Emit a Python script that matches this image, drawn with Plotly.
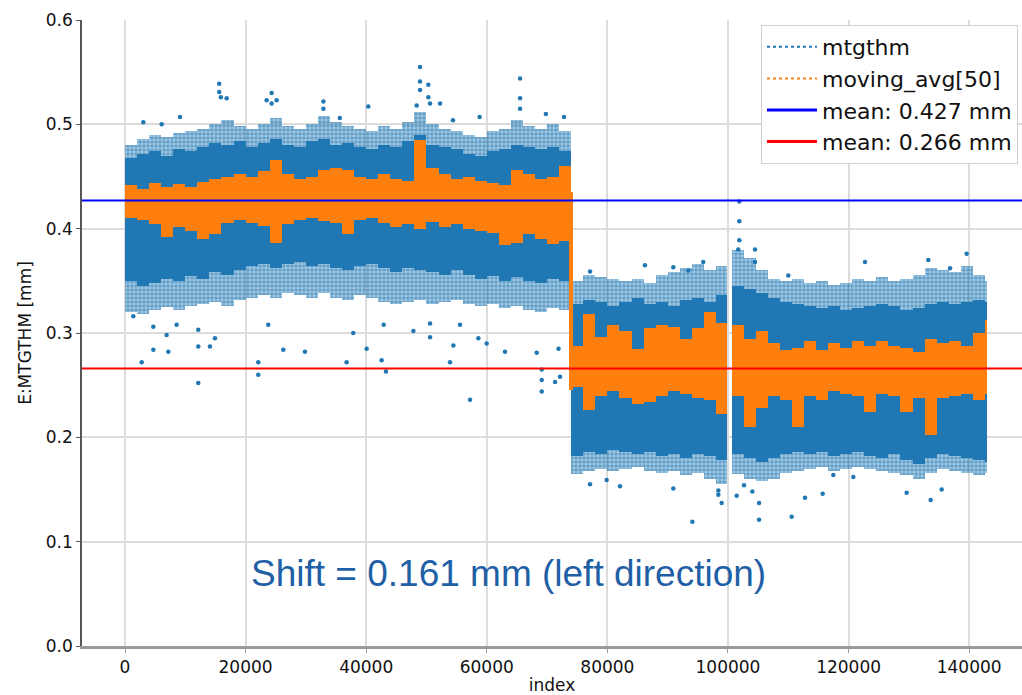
import numpy as np
import plotly.graph_objects as go

# ---------------- data ----------------
# index bins (edges) for the three stretches of samples
SEG1_EDGES = list(range(0, 74001, 2000))
SEG2A_EDGES = [74000, 76000, 78000, 80000, 82000, 84000, 86000, 88000, 90000,
               92000, 94000, 96000, 98000, 99800]
SEG2B_EDGES = [100600, 102600, 104600, 106600, 108600, 110600, 112600, 114600,
               116600, 118600, 120600, 122600, 124600, 126600, 128600, 130600,
               132600, 134600, 136600, 138600, 140600, 142600, 143000]

# mtgthm: dense core (lo/hi) and sparse fringe (lo/hi) per bin
SEG1_CORE_HI = [0.468, 0.472, 0.474, 0.470, 0.476, 0.474, 0.478, 0.482, 0.480, 0.484,
                0.478, 0.482, 0.486, 0.480, 0.478, 0.484, 0.486, 0.480, 0.482, 0.478,
                0.476, 0.480, 0.478, 0.484, 0.490, 0.480, 0.478, 0.476, 0.472, 0.470,
                0.474, 0.476, 0.480, 0.478, 0.476, 0.478, 0.474]
SEG1_FRINGE_HI = [0.480, 0.486, 0.490, 0.488, 0.492, 0.494, 0.496, 0.500, 0.504, 0.498,
                  0.496, 0.500, 0.506, 0.498, 0.496, 0.500, 0.508, 0.502, 0.498, 0.496,
                  0.494, 0.498, 0.496, 0.502, 0.512, 0.500, 0.496, 0.494, 0.490, 0.488,
                  0.494, 0.496, 0.504, 0.498, 0.496, 0.500, 0.494]
SEG1_CORE_LO = [0.350, 0.345, 0.348, 0.352, 0.350, 0.355, 0.352, 0.358, 0.356, 0.360,
                0.364, 0.366, 0.362, 0.366, 0.368, 0.364, 0.366, 0.362, 0.360, 0.364,
                0.366, 0.362, 0.358, 0.362, 0.360, 0.358, 0.356, 0.360, 0.356, 0.352,
                0.355, 0.350, 0.354, 0.350, 0.348, 0.352, 0.350]
SEG1_FRINGE_LO = [0.320, 0.318, 0.322, 0.325, 0.322, 0.326, 0.328, 0.330, 0.326, 0.332,
                  0.334, 0.336, 0.334, 0.338, 0.336, 0.334, 0.338, 0.334, 0.332, 0.336,
                  0.334, 0.330, 0.328, 0.330, 0.332, 0.328, 0.330, 0.332, 0.328, 0.326,
                  0.328, 0.324, 0.326, 0.322, 0.320, 0.324, 0.322]

SEG2A_CORE_HI = [0.328, 0.332, 0.330, 0.326, 0.330, 0.334, 0.328, 0.330, 0.326, 0.332,
                 0.334, 0.330, 0.336]
SEG2A_FRINGE_HI = [0.350, 0.356, 0.354, 0.352, 0.350, 0.352, 0.348, 0.356, 0.358, 0.362,
                   0.366, 0.360, 0.364]
SEG2A_CORE_LO = [0.182, 0.186, 0.184, 0.188, 0.186, 0.184, 0.186, 0.182, 0.184, 0.180,
                 0.184, 0.182, 0.178]
SEG2A_FRINGE_LO = [0.165, 0.168, 0.170, 0.168, 0.170, 0.172, 0.168, 0.166, 0.168, 0.164,
                   0.166, 0.160, 0.155]

SEG2B_CORE_HI = [0.345, 0.342, 0.338, 0.334, 0.330, 0.328, 0.326, 0.324, 0.326, 0.322,
                 0.324, 0.326, 0.328, 0.326, 0.322, 0.324, 0.328, 0.330, 0.328, 0.330,
                 0.332, 0.330]
SEG2B_FRINGE_HI = [0.380, 0.372, 0.360, 0.352, 0.350, 0.352, 0.348, 0.350, 0.346, 0.348,
                   0.352, 0.350, 0.354, 0.350, 0.352, 0.356, 0.362, 0.360, 0.358, 0.364,
                   0.356, 0.350]
SEG2B_CORE_LO = [0.184, 0.180, 0.176, 0.180, 0.184, 0.186, 0.184, 0.186, 0.182, 0.184,
                 0.186, 0.182, 0.180, 0.184, 0.178, 0.174, 0.180, 0.184, 0.182, 0.180,
                 0.178, 0.176]
SEG2B_FRINGE_LO = [0.165, 0.160, 0.158, 0.160, 0.166, 0.168, 0.170, 0.172, 0.168, 0.170,
                   0.172, 0.170, 0.168, 0.166, 0.164, 0.160, 0.166, 0.170, 0.168, 0.166,
                   0.164, 0.166]

# moving_avg[50]: band lo/hi per bin
SEG1_AVG_HI = [0.442, 0.438, 0.444, 0.440, 0.443, 0.440, 0.445, 0.448, 0.450, 0.452,
               0.450, 0.455, 0.466, 0.452, 0.448, 0.450, 0.456, 0.458, 0.456, 0.450,
               0.448, 0.452, 0.448, 0.446, 0.485, 0.458, 0.452, 0.448, 0.450, 0.446,
               0.444, 0.442, 0.456, 0.452, 0.448, 0.450, 0.460]
SEG1_AVG_LO = [0.410, 0.408, 0.404, 0.392, 0.402, 0.398, 0.390, 0.395, 0.405, 0.408,
               0.405, 0.403, 0.386, 0.404, 0.408, 0.410, 0.407, 0.405, 0.395, 0.408,
               0.410, 0.405, 0.402, 0.404, 0.400, 0.406, 0.402, 0.404, 0.400, 0.398,
               0.396, 0.384, 0.386, 0.395, 0.390, 0.385, 0.388]
SEG2A_AVG_HI = [0.288, 0.318, 0.296, 0.308, 0.302, 0.285, 0.305, 0.308, 0.306, 0.294,
                0.305, 0.320, 0.310]
SEG2A_AVG_LO = [0.248, 0.226, 0.240, 0.244, 0.238, 0.232, 0.234, 0.240, 0.244, 0.242,
                0.238, 0.236, 0.222]
SEG2B_AVG_HI = [0.308, 0.294, 0.302, 0.290, 0.284, 0.286, 0.292, 0.284, 0.290, 0.286,
                0.292, 0.288, 0.292, 0.288, 0.286, 0.282, 0.294, 0.290, 0.292, 0.288,
                0.300, 0.312]
SEG2B_AVG_LO = [0.240, 0.210, 0.228, 0.240, 0.236, 0.210, 0.240, 0.236, 0.244, 0.242,
                0.240, 0.224, 0.242, 0.240, 0.224, 0.238, 0.202, 0.238, 0.240, 0.242,
                0.236, 0.242]
# the moving average's drop at the step
STEP_EDGES = [73600, 74300]
STEP_AVG_HI = [0.435]
STEP_AVG_LO = [0.245]

# isolated mtgthm samples outside the bands
OUT_INDEX = [15620, 15620, 15900, 16860, 24320, 23490, 25150, 24320, 32900, 32900,
             40350, 48930, 48930, 48930, 50310, 50310, 50590, 52250, 65520, 65520,
             65520, 69800, 72800, 3040, 6080, 9120, 48370, 35630, 54390, 58810,
             2770, 4700, 1380, 4700, 8560, 6900, 7180, 12150, 12150, 12150,
             14090, 14920, 22100, 22100, 26250, 29840, 23760, 36750, 37850, 40070,
             42560, 43280, 42900, 47820, 50590, 54460, 53900, 57220, 58600, 59980,
             63020, 68280, 69110, 69110, 69110, 71320, 72150, 71900, 55560, 50590,
             101880, 101880, 101880, 101700, 104480, 104480, 86230, 122720, 139580, 133220,
             95900, 93420, 110000, 90930, 77120, 136830,
             94090, 77120, 82090, 79880, 90930, 98400, 98400, 98950, 101440, 102660,
             104040, 105150, 105150, 110560, 112770, 115700, 129630, 133610, 135440,
             120790, 117470]
OUT_VALUE = [0.539, 0.531, 0.526, 0.525, 0.530, 0.523, 0.523, 0.520, 0.522, 0.515,
             0.517, 0.555, 0.541, 0.533, 0.538, 0.526, 0.520, 0.520, 0.544, 0.525,
             0.515, 0.510, 0.507, 0.502, 0.500, 0.507, 0.518, 0.506, 0.504, 0.507,
             0.272, 0.284, 0.316, 0.306, 0.308, 0.298, 0.282, 0.252, 0.287, 0.303,
             0.287, 0.295, 0.272, 0.260, 0.284, 0.282, 0.308, 0.272, 0.300, 0.285,
             0.274, 0.263, 0.308, 0.302, 0.296, 0.288, 0.272, 0.236, 0.295, 0.290,
             0.282, 0.281, 0.265, 0.255, 0.244, 0.253, 0.258, 0.285, 0.308, 0.309,
             0.426, 0.407, 0.389, 0.380, 0.380, 0.368, 0.365, 0.368, 0.376, 0.370,
             0.368, 0.360, 0.355, 0.363, 0.359, 0.362,
             0.119, 0.155, 0.153, 0.159, 0.151, 0.149, 0.145, 0.137, 0.144, 0.154,
             0.148, 0.137, 0.121, 0.124, 0.142, 0.146, 0.147, 0.140, 0.150,
             0.162, 0.164]

MEANS = [0.427, 0.266]
MEAN_LABELS = ["mean: 0.427 mm", "mean: 0.266 mm"]
SERIES_NAMES = ["mtgthm", "moving_avg[50]"]
SHIFT_TEXT = "Shift = 0.161 mm (left direction)"

X_TICKS = [0, 20000, 40000, 60000, 80000, 100000, 120000, 140000]
Y_TICKS = [0.0, 0.1, 0.2, 0.3, 0.4, 0.5, 0.6]

# ---------------- styling ----------------
BLUE = "#1f77b4"
ORANGE = "#ff7f0e"
FONT = "DejaVu Sans"


def bins(edges):
    e = np.asarray(edges, dtype=float)
    return (e[:-1] + e[1:]) / 2.0, np.diff(e)


def band(edges, lo, hi, **marker):
    c, w = bins(edges)
    lo = np.asarray(lo)
    hi = np.asarray(hi)
    return go.Bar(x=c, width=w, base=lo, y=hi - lo, marker=marker,
                  showlegend=False, hoverinfo="skip")


fig = go.Figure()

fringe_marker = dict(color="rgba(0,0,0,0)", line=dict(width=0),
                     pattern=dict(shape=".", fgcolor=BLUE, bgcolor="rgba(31,119,180,0.40)",
                                  size=4, solidity=0.6))
core_marker = dict(color=BLUE, line=dict(width=0))
avg_marker = dict(color=ORANGE, line=dict(width=0))

for edges, lo, hi in [(SEG1_EDGES, SEG1_FRINGE_LO, SEG1_FRINGE_HI),
                      (SEG2A_EDGES, SEG2A_FRINGE_LO, SEG2A_FRINGE_HI),
                      (SEG2B_EDGES, SEG2B_FRINGE_LO, SEG2B_FRINGE_HI)]:
    fig.add_trace(band(edges, lo, hi, **fringe_marker))

for edges, lo, hi in [(SEG1_EDGES, SEG1_CORE_LO, SEG1_CORE_HI),
                      (SEG2A_EDGES, SEG2A_CORE_LO, SEG2A_CORE_HI),
                      (SEG2B_EDGES, SEG2B_CORE_LO, SEG2B_CORE_HI)]:
    fig.add_trace(band(edges, lo, hi, **core_marker))

fig.add_trace(go.Scatter(x=OUT_INDEX, y=OUT_VALUE, mode="markers",
                         marker=dict(color=BLUE, size=4.5, line=dict(width=0)),
                         showlegend=False, hoverinfo="skip"))

for edges, lo, hi in [(SEG1_EDGES, SEG1_AVG_LO, SEG1_AVG_HI),
                      (SEG2A_EDGES, SEG2A_AVG_LO, SEG2A_AVG_HI),
                      (SEG2B_EDGES, SEG2B_AVG_LO, SEG2B_AVG_HI),
                      (STEP_EDGES, STEP_AVG_LO, STEP_AVG_HI)]:
    fig.add_trace(band(edges, lo, hi, **avg_marker))

# legend entries
fig.add_trace(go.Scatter(x=[None], y=[None], mode="lines", name=SERIES_NAMES[0],
                         line=dict(color=BLUE, dash="dot", width=2)))
fig.add_trace(go.Scatter(x=[None], y=[None], mode="lines", name=SERIES_NAMES[1],
                         line=dict(color=ORANGE, dash="dot", width=2)))
for m, lab, col, wd in zip(MEANS, MEAN_LABELS, ["blue", "red"], [2, 2]):
    fig.add_trace(go.Scatter(x=[None], y=[None], mode="lines", name=lab,
                             line=dict(color=col, width=wd + 1)))
    fig.add_shape(type="line", xref="paper", x0=0, x1=1, yref="y", y0=m, y1=m,
                  line=dict(color=col, width=wd), layer="above")

fig.add_annotation(text=SHIFT_TEXT, xref="paper", yref="paper", x=0.454, y=0.116,
                   xanchor="center", yanchor="middle", showarrow=False,
                   font=dict(family="Liberation Sans, Arial", size=37, color="#1f5fa6"))

fig.update_layout(
    width=1022, height=695,
    margin=dict(l=82, r=0, t=20, b=49),
    paper_bgcolor="white", plot_bgcolor="white",
    barmode="overlay", bargap=0,
    font=dict(family=FONT, size=17, color="#111"),
    legend=dict(x=0.9957, y=0.992, xanchor="right", yanchor="top",
                bgcolor="white", bordercolor="#d0d0d0", borderwidth=1,
                itemwidth=50,
                font=dict(family=FONT, size=22, color="#111")),
    showlegend=True,
)
fig.update_xaxes(range=[-7131, 148760], tickvals=X_TICKS, ticktext=[str(v) for v in X_TICKS],
                 showgrid=True, gridcolor="#dcdcdc", gridwidth=1.5, zeroline=False,
                 showline=True, linecolor="#9a9a9a", linewidth=2.5,
                 ticks="outside", ticklen=4, tickcolor="#9a9a9a",
                 title=dict(text="index", font=dict(size=17), standoff=6))
fig.update_yaxes(range=[0, 0.6], tickvals=Y_TICKS, ticktext=[f"{v:.1f}" for v in Y_TICKS],
                 showgrid=True, gridcolor="#dcdcdc", gridwidth=1.5, zeroline=False,
                 showline=True, linecolor="#555", linewidth=1.5,
                 ticks="outside", ticklen=4, tickcolor="#555",
                 title=dict(text="E:MTGTHM [mm]", font=dict(size=17), standoff=10))

fig.write_html("out.html", config={"displayModeBar": False},
               post_script="document.body.style.margin='0px';document.body.style.overflow='hidden';")
